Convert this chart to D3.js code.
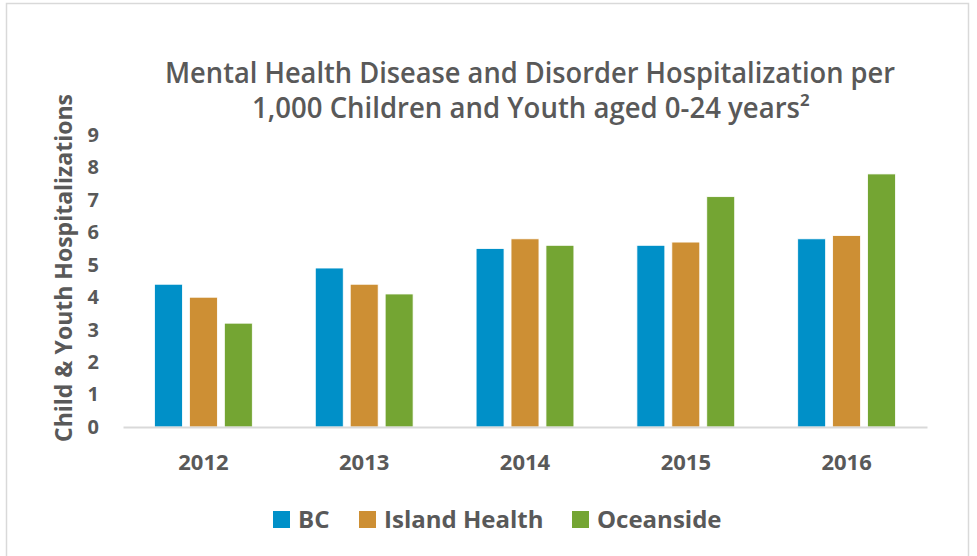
<!DOCTYPE html>
<html>
<head>
<meta charset="utf-8">
<script src="https://cdn.jsdelivr.net/npm/d3@7"></script>
<style>
  body { margin: 0; background: #fff; }
</style>
</head>
<body>
<div id="chart"></div>
<script>
// data
const years = ["2012", "2013", "2014", "2015", "2016"];
const seriesNames = ["BC", "Island Health", "Oceanside"];
const bcValues = [4.4, 4.9, 5.5, 5.6, 5.8];
const islandValues = [4.0, 4.4, 5.8, 5.7, 5.9];
const oceansideValues = [3.2, 4.1, 5.6, 7.1, 7.8];
const yTicks = [0, 1, 2, 3, 4, 5, 6, 7, 8, 9];
const colors = ["#0090c8", "#cd8f34", "#74a533"];

const W = 977, H = 556;
const margin = { top: 135, right: 50, bottom: 129, left: 123 },
  width = W - margin.left - margin.right,
  height = H - margin.top - margin.bottom;

const svg = d3.select("#chart")
  .append("svg")
  .attr("width", W)
  .attr("height", H);

// outer frame
svg.append("rect")
  .attr("x", 6.5).attr("y", 3.5)
  .attr("width", 962).attr("height", 560)
  .attr("fill", "none")
  .attr("stroke", "#d9d9d9")
  .attr("stroke-width", 1.5);

const g = svg.append("g")
  .attr("transform", "translate(" + margin.left + "," + margin.top + ")");

const rows = years.map((yr, i) => ({
  year: yr,
  values: [bcValues[i], islandValues[i], oceansideValues[i]]
}));

const x0 = d3.scaleBand().domain(years).range([0, width]).paddingInner(0.37).paddingOuter(0.185);
const x1 = d3.scaleBand().domain(seriesNames).range([0, x0.bandwidth()]).padding(0.2).paddingOuter(0.05);
const y = d3.scaleLinear().domain([0, 9]).range([height, 0]);

// bars
const groups = g.selectAll(".grp")
  .data(rows)
  .enter().append("g")
  .attr("class", "grp")
  .attr("transform", d => "translate(" + x0(d.year) + ",0)");

groups.selectAll("rect")
  .data(d => d.values.map((v, i) => ({ name: seriesNames[i], value: v, i: i })))
  .enter().append("rect")
  .attr("x", d => x1(d.name))
  .attr("width", x1.bandwidth())
  .attr("y", d => y(d.value))
  .attr("height", d => height - y(d.value))
  .attr("fill", d => colors[d.i])
  .attr("stroke", "#fff")
  .attr("stroke-width", 0.8);

// y axis (labels only)
const yAxis = g.append("g")
  .call(d3.axisLeft(y).tickValues(yTicks).tickSize(0).tickPadding(24));
yAxis.select(".domain").remove();
yAxis.selectAll("text")
  .attr("fill", "#595959")
  .style("font-family", "'Open Sans', sans-serif")
  .style("font-weight", "bold")
  .style("font-size", "20px");

// x axis
const xAxis = g.append("g")
  .attr("transform", "translate(0," + height + ")")
  .call(d3.axisBottom(x0).tickSize(0).tickPadding(27));
xAxis.select(".domain")
  .attr("stroke", "#d9d9d9")
  .attr("stroke-width", 2);
xAxis.selectAll("text")
  .attr("fill", "#595959")
  .style("font-family", "'Open Sans', sans-serif")
  .style("font-weight", "bold")
  .style("font-size", "22px");

// y axis title
svg.append("text")
  .attr("transform", "translate(72,268) rotate(-90)")
  .attr("text-anchor", "middle")
  .attr("fill", "#595959")
  .style("font-family", "'Open Sans', sans-serif")
  .style("font-weight", "bold")
  .style("font-size", "23px")
  .text("Child & Youth Hospitalizations");

// title (two lines)
const titleFont = "'Open Sans', sans-serif";
svg.append("text")
  .attr("x", 165).attr("y", 83)
  .attr("textLength", 730)
  .attr("lengthAdjust", "spacingAndGlyphs")
  .attr("fill", "#595959")
  .style("font-family", titleFont)
  .style("font-weight", 600)
  .style("font-size", "28px")
  .text("Mental Health Disease and Disorder Hospitalization per");
svg.append("text")
  .attr("x", 252).attr("y", 118)
  .attr("textLength", 558)
  .attr("lengthAdjust", "spacingAndGlyphs")
  .attr("fill", "#595959")
  .style("font-family", titleFont)
  .style("font-weight", 600)
  .style("font-size", "28px")
  .text("1,000 Children and Youth aged 0-24 years\u00B2");

// legend
const legendX = [273, 359, 572];
const legend = svg.selectAll(".leg")
  .data(seriesNames)
  .enter().append("g")
  .attr("class", "leg")
  .attr("transform", (d, i) => "translate(" + legendX[i] + ",511)");
legend.append("rect")
  .attr("width", 17).attr("height", 17)
  .attr("fill", (d, i) => colors[i]);
legend.append("text")
  .attr("x", 25).attr("y", 17)
  .attr("fill", "#595959")
  .style("font-family", "'Open Sans', sans-serif")
  .style("font-weight", "bold")
  .style("font-size", "24px")
  .text(d => d);
</script>
</body>
</html>
